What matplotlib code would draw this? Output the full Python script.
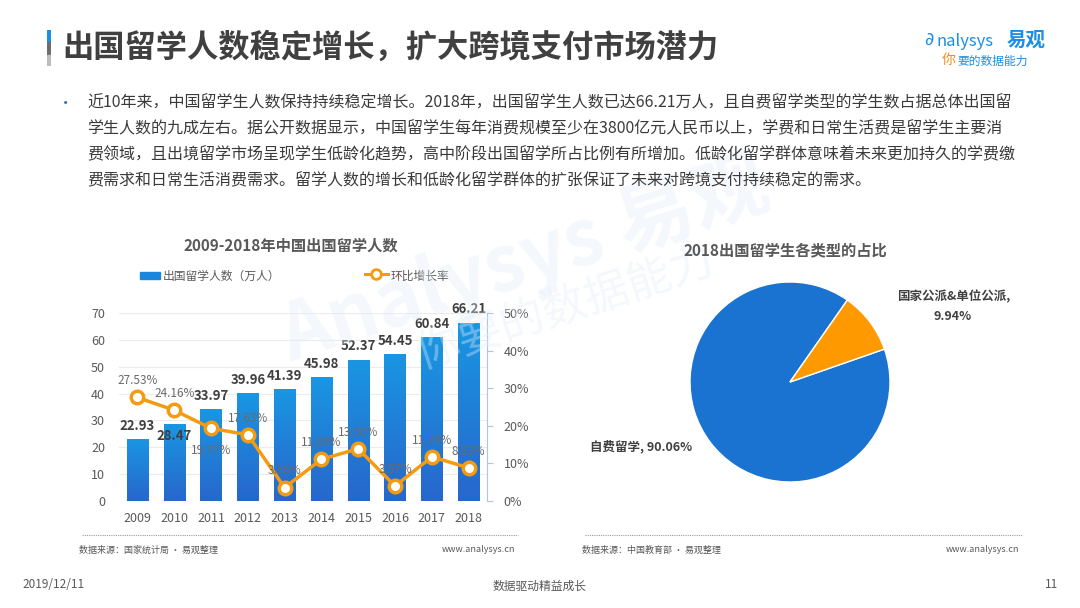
import numpy as np
import matplotlib
matplotlib.use("Agg")
import matplotlib.pyplot as plt
from matplotlib.ticker import FuncFormatter

plt.rcParams['font.family'] = ['Noto Sans CJK SC', 'DejaVu Sans']

# data
years = ["2009", "2010", "2011", "2012", "2013", "2014", "2015", "2016", "2017", "2018"]
students = [22.93, 28.47, 33.97, 39.96, 41.39, 45.98, 52.37, 54.45, 60.84, 66.21]
growth = [27.53, 24.16, 19.32, 17.63, 3.56, 11.09, 13.90, 3.97, 11.74, 8.83]
pie_labels = ["自费留学", "国家公派&单位公派"]
pie_values = [90.06, 9.94]

W, H = 1080, 608
fig = plt.figure(figsize=(W / 100, H / 100), dpi=100)
fig.patch.set_facecolor("white")


def fx(px):
    return px / W


def fy(py):
    return 1 - py / H


def px_axes(left, top, right, bottom):
    return fig.add_axes([fx(left), fy(bottom), fx(right - left), (bottom - top) / H])


# watermark
fig.text(fx(525), fy(262), "Analysys 易观", fontsize=56, color="#e3eef9", alpha=0.38,
         rotation=18, ha="center", va="center", fontweight="bold", zorder=0)
fig.text(fx(565), fy(308), "你要的数据能力", fontsize=32, color="#e3eef9", alpha=0.38,
         rotation=18, ha="center", va="center", style="italic", zorder=0)

# header
bar_ax = px_axes(47, 30, 51, 66)
bar_ax.axvspan(0, 1, ymin=0.66, ymax=1, color="#1a8fe3")
bar_ax.axvspan(0, 1, ymin=0.3, ymax=0.66, color="#6d6d6d")
bar_ax.axvspan(0, 1, ymin=0, ymax=0.3, color="#bdbdbd")
bar_ax.set_xlim(0, 1)
bar_ax.axis("off")

fig.text(fx(62), fy(48), "出国留学人数稳定增长，扩大跨境支付市场潜力", fontsize=22.5,
         fontweight="bold", color="#404040", ha="left", va="center")

fig.text(fx(929), fy(40), "∂", fontsize=13, color="#1a8fe3", ha="center", va="center",
         family=["DejaVu Sans"])
fig.text(fx(936), fy(41), "nalysys", fontsize=12, color="#1a8fe3", ha="left", va="center")
fig.text(fx(1026), fy(40), "易观", fontsize=14, color="#1a8fe3", ha="center", va="center",
         fontweight="bold")
fig.text(fx(949), fy(60), "你", fontsize=10, color="#f08c1e", ha="center", va="center")
fig.text(fx(957), fy(61), "要的数据能力", fontsize=8.5, color="#1a8fe3", ha="left", va="center")

body = [
    "近10年来，中国留学生人数保持持续稳定增长。2018年，出国留学生人数已达66.21万人，且自费留学类型的学生数占据总体出国留",
    "学生人数的九成左右。据公开数据显示，中国留学生每年消费规模至少在3800亿元人民币以上，学费和日常生活费是留学生主要消",
    "费领域，且出境留学市场呈现学生低龄化趋势，高中阶段出国留学所占比例有所增加。低龄化留学群体意味着未来更加持久的学费缴",
    "费需求和日常生活消费需求。留学人数的增长和低龄化留学群体的扩张保证了未来对跨境支付持续稳定的需求。",
]
fig.text(fx(66), fy(103), "•", fontsize=11, color="#1a73c8", ha="center", va="center")
for i, line in enumerate(body):
    fig.text(fx(87), fy(103 + i * 26), line, fontsize=11.5, color="#3a3a3a", ha="left",
             va="center")

# bar + line chart
ax = px_axes(119, 313, 487, 501)
x = np.arange(len(years))
bw = 0.58
grad = np.linspace(0, 1, 100).reshape(-1, 1)
cmap = matplotlib.colors.LinearSegmentedColormap.from_list("g", ["#2767cc", "#1a96e2"])
for xi, v in zip(x, students):
    ax.imshow(grad, cmap=cmap, origin="lower", aspect="auto",
              extent=(xi - bw / 2, xi + bw / 2, 0, v), zorder=2)
bars = ax.bar(x, students, width=bw, color="none", zorder=2)
ax.set_xlim(-0.5, 9.5)
ax.set_ylim(0, 70)
ax.set_yticks(range(0, 71, 10))
ax.yaxis.grid(True, color="#ececec", linewidth=0.8, zorder=0)
ax.set_axisbelow(True)
ax.patch.set_alpha(0)
for s in ["top", "right", "left", "bottom"]:
    ax.spines[s].set_visible(False)
ax.tick_params(axis="both", length=0, labelsize=9, colors="#595959")
ax.tick_params(axis="x", pad=8)
ax.tick_params(axis="y", pad=10)
ax.set_xticks(x)
ax.set_xticklabels(years)

value_offsets = [10, -8, 10, 10, 10, 10, 10, 10, 10, 10]
for xi, v, off in zip(x, students, value_offsets):
    ax.annotate(f"{v:.2f}", (xi, v), xytext=(0, off), textcoords="offset points",
                ha="center", va="center", fontsize=9.5, fontweight="bold",
                color="#404040", zorder=6)

ax2 = ax.twinx()
ax2.set_ylim(0, 50)
ax2.set_yticks(range(0, 51, 10))
ax2.yaxis.set_major_formatter(FuncFormatter(lambda v, p: f"{v:.0f}%"))
for s in ["top", "left", "bottom"]:
    ax2.spines[s].set_visible(False)
ax2.spines["right"].set_color("#a9c6ec")
ax2.tick_params(axis="y", length=4, color="#a9c6ec", labelsize=9, labelcolor="#595959", pad=8)
ax2.plot(x, growth, color="#f39c12", linewidth=2.5, marker="o", markersize=9,
         markerfacecolor="white", markeredgecolor="#f39c12", markeredgewidth=2.5, zorder=5)
pct_offsets = [12, 12, -16, 12, 12, 12, 12, 12, 12, 12]
for xi, g, off in zip(x, growth, pct_offsets):
    ax2.annotate(f"{g:.2f}%", (xi, g), xytext=(0, off), textcoords="offset points",
                 ha="center", va="center", fontsize=8.5, color="#6a6a6a", zorder=6)

fig.text(fx(291), fy(246), "2009-2018年中国出国留学人数", fontsize=11, fontweight="bold",
         color="#595959", ha="center", va="center")
leg_ax = px_axes(130, 266, 480, 284)
leg_ax.set_xlim(130, 480)
leg_ax.set_ylim(284, 266)
leg_ax.axis("off")
leg_ax.add_patch(plt.Rectangle((140, 272), 20, 7, color="#1a86dc"))
leg_ax.text(163, 276, "出国留学人数（万人）", fontsize=8.5, color="#595959", va="center")
leg_ax.plot([365, 388], [274, 274], color="#f39c12", linewidth=2.2)
leg_ax.plot([376], [274], marker="o", markersize=7, markerfacecolor="white",
            markeredgecolor="#f39c12", markeredgewidth=2)
leg_ax.text(391, 276, "环比增长率", fontsize=8.5, color="#595959", va="center")

# pie chart
pax = px_axes(690, 282, 890, 482)
pax.pie(pie_values, colors=["#1a73d1", "#ff9900"], startangle=55, counterclock=True,
        wedgeprops=dict(edgecolor="white", linewidth=1))
pax.set_xlim(-1, 1)
pax.set_ylim(-1, 1)
pax.set_aspect("equal")
pax.text(1.07, 0.85, f"{pie_labels[1]},", fontsize=9, fontweight="bold", color="#404040",
         ha="left", va="center", clip_on=False)
pax.text(1.63, 0.65, f"{pie_values[1]:.2f}%", fontsize=9, fontweight="bold", color="#404040",
         ha="center", va="center", clip_on=False)
pax.text(-0.98, -0.65, f"{pie_labels[0]}, {pie_values[0]:.2f}%", fontsize=9, fontweight="bold",
         color="#404040", ha="right", va="center", clip_on=False)
fig.text(fx(785), fy(250), "2018出国留学生各类型的占比", fontsize=11, fontweight="bold",
         color="#595959", ha="center", va="center")

# source lines and footer
for x0, x1, src in [(82, 518, "数据来源：国家统计局 · 易观整理"),
                    (585, 1022, "数据来源：中国教育部 · 易观整理")]:
    fig.add_artist(plt.Line2D([fx(x0), fx(x1)], [fy(535), fy(535)], color="#9a9a9a",
                              linewidth=0.8, linestyle=(0, (1, 1))))
    fig.text(fx(x0 - 3), fy(550), src, fontsize=6.5, color="#595959", ha="left", va="center")
    fig.text(fx(x1 - 3), fy(550), "www.analysys.cn", fontsize=6.5, color="#595959",
             ha="right", va="center")

fig.text(fx(22), fy(585), "2019/12/11", fontsize=8.5, color="#595959", ha="left", va="center")
fig.text(fx(540), fy(586), "数据驱动精益成长", fontsize=8.5, color="#595959", ha="center",
         va="center")
fig.text(fx(1058), fy(585), "11", fontsize=8.5, color="#595959", ha="right", va="center")

fig.savefig("out.png", dpi=100, facecolor="white")
